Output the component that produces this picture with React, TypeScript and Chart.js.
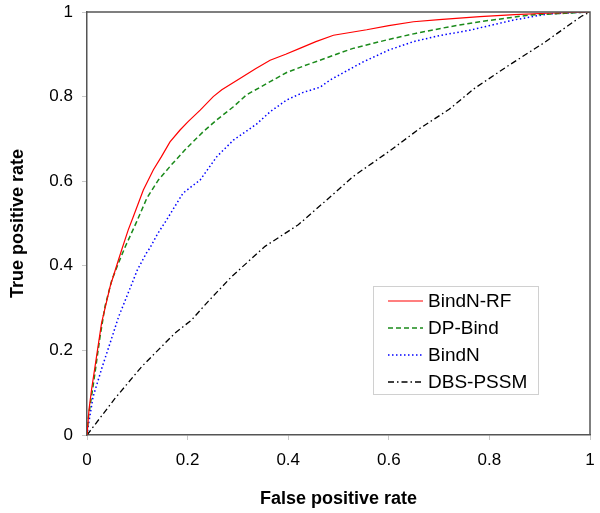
import React, { useEffect, useRef } from "react";
import { Chart, registerables } from "chart.js";

Chart.register(...registerables);

const seriesNames = ["BindN-RF", "DP-Bind", "BindN", "DBS-PSSM"];

const rfFpr = [0, 0.004, 0.009, 0.019, 0.029, 0.046, 0.062, 0.069, 0.082, 0.092, 0.112, 0.132, 0.148, 0.165, 0.185, 0.201, 0.225, 0.251, 0.268, 0.304, 0.335, 0.364, 0.395, 0.423, 0.455, 0.49, 0.52, 0.556, 0.6, 0.649, 0.7, 0.781, 0.85, 0.914, 1];
const rfTpr = [0, 0.06, 0.107, 0.186, 0.265, 0.351, 0.412, 0.438, 0.485, 0.516, 0.579, 0.627, 0.658, 0.693, 0.721, 0.741, 0.768, 0.8, 0.816, 0.843, 0.866, 0.886, 0.9, 0.914, 0.93, 0.945, 0.951, 0.958, 0.968, 0.977, 0.982, 0.989, 0.994, 0.997, 1];

const dpFpr = [0, 0.003, 0.013, 0.026, 0.036, 0.049, 0.062, 0.076, 0.099, 0.119, 0.142, 0.168, 0.198, 0.231, 0.258, 0.291, 0.317, 0.365, 0.397, 0.43, 0.463, 0.5, 0.529, 0.596, 0.655, 0.72, 0.781, 0.88, 0.95, 1];
const dpTpr = [0, 0.044, 0.123, 0.233, 0.305, 0.365, 0.405, 0.445, 0.505, 0.56, 0.603, 0.639, 0.678, 0.717, 0.745, 0.776, 0.804, 0.836, 0.857, 0.872, 0.886, 0.902, 0.914, 0.934, 0.95, 0.965, 0.977, 0.993, 0.997, 1];

const bnFpr = [0, 0.003, 0.012, 0.03, 0.048, 0.063, 0.085, 0.1, 0.118, 0.125, 0.14, 0.158, 0.191, 0.225, 0.258, 0.291, 0.337, 0.365, 0.397, 0.43, 0.463, 0.483, 0.515, 0.549, 0.6, 0.649, 0.7, 0.761, 0.848, 0.914, 0.96, 1];
const bnTpr = [0, 0.025, 0.09, 0.16, 0.225, 0.28, 0.345, 0.39, 0.43, 0.442, 0.475, 0.508, 0.572, 0.603, 0.658, 0.697, 0.735, 0.765, 0.792, 0.81, 0.822, 0.839, 0.86, 0.882, 0.91, 0.93, 0.944, 0.957, 0.981, 0.995, 0.998, 1];

const dbsFpr = [0, 0.056, 0.109, 0.175, 0.208, 0.241, 0.288, 0.354, 0.42, 0.473, 0.529, 0.6, 0.662, 0.72, 0.771, 0.84, 0.907, 0.983, 1];
const dbsTpr = [0, 0.087, 0.162, 0.241, 0.272, 0.316, 0.375, 0.446, 0.497, 0.552, 0.611, 0.67, 0.725, 0.77, 0.82, 0.875, 0.926, 0.99, 1];

const tickValues = [0, 0.2, 0.4, 0.6, 0.8, 1];

const FONT = "'Liberation Sans', Arial, sans-serif";

const toPoints = (xs: number[], ys: number[]) => xs.map((x, i) => ({ x, y: ys[i] }));

const frameAndLegend = {
  id: "frameAndLegend",
  afterDatasetsDraw(chart: any) {
    const { ctx, chartArea } = chart;
    ctx.save();
    ctx.strokeStyle = "#555";
    ctx.lineWidth = 1.5;
    ctx.setLineDash([]);
    ctx.beginPath();
    ctx.moveTo(chartArea.left, chartArea.top);
    ctx.lineTo(chartArea.right, chartArea.top);
    ctx.lineTo(chartArea.right, chartArea.bottom);
    ctx.stroke();

    // legend box
    const bx = 373, by = 286, bw = 165, bh = 108;
    ctx.fillStyle = "#fff";
    ctx.fillRect(bx, by, bw, bh);
    ctx.strokeStyle = "#d0d0d0";
    ctx.lineWidth = 1;
    ctx.strokeRect(bx + 0.5, by + 0.5, bw, bh);
    ctx.font = `19px ${FONT}`;
    ctx.textBaseline = "middle";
    ctx.textAlign = "left";
    chart.data.datasets.forEach((ds: any, i: number) => {
      const yy = by + 15 + i * 27;
      ctx.strokeStyle = ds.borderColor;
      ctx.lineWidth = ds.borderWidth;
      ctx.setLineDash(ds.borderDash || []);
      ctx.beginPath();
      ctx.moveTo(388, yy);
      ctx.lineTo(423, yy);
      ctx.stroke();
      ctx.setLineDash([]);
      ctx.fillStyle = "#000";
      ctx.fillText(ds.label, 428, yy + 1);
    });
    ctx.restore();
  },
};

export default function App() {
  const ref = useRef<HTMLCanvasElement | null>(null);
  useEffect(() => {
    if (!ref.current) return;
    const chart = new Chart(ref.current, {
      type: "line",
      data: {
        datasets: [
          { label: seriesNames[0], data: toPoints(rfFpr, rfTpr), borderColor: "#ff0000", borderWidth: 1.2, pointRadius: 0, fill: false, tension: 0 },
          { label: seriesNames[1], data: toPoints(dpFpr, dpTpr), borderColor: "#1a8a1a", borderWidth: 1.5, borderDash: [5, 3], pointRadius: 0, fill: false, tension: 0 },
          { label: seriesNames[2], data: toPoints(bnFpr, bnTpr), borderColor: "#0000ff", borderWidth: 1.5, borderDash: [1.5, 2.5], pointRadius: 0, fill: false, tension: 0 },
          { label: seriesNames[3], data: toPoints(dbsFpr, dbsTpr), borderColor: "#000000", borderWidth: 1.3, borderDash: [6, 3, 1.5, 3], pointRadius: 0, fill: false, tension: 0 },
        ],
      },
      options: {
        animation: false,
        responsive: false,
        maintainAspectRatio: false,
        layout: { padding: { left: 0, right: 10, top: 12, bottom: 0 } },
        plugins: { legend: { display: false }, tooltip: { enabled: false } },
        scales: {
          x: {
            type: "linear",
            min: 0,
            max: 1,
            afterBuildTicks: (s: any) => { s.ticks = tickValues.map((v) => ({ value: v })); },
            afterFit: (s: any) => { s.height = 78; s.paddingLeft = 0; s.paddingRight = 0; },
            ticks: { color: "#000", font: { family: FONT, size: 17 }, padding: 10, maxRotation: 0, callback: (v: any) => String(v) },
            grid: { drawOnChartArea: false, drawTicks: true, tickLength: 5, color: "#c8c8c8" },
            border: { color: "#555", width: 1.5 },
            title: { display: true, text: "False positive rate", color: "#000", font: { family: FONT, size: 18, weight: "bold" }, padding: { top: 0, bottom: 3 } },
          },
          y: {
            type: "linear",
            min: 0,
            max: 1,
            afterBuildTicks: (s: any) => { s.ticks = tickValues.map((v) => ({ value: v })); },
            afterFit: (s: any) => { s.width = 87; s.paddingTop = 0; s.paddingBottom = 0; },
            ticks: { color: "#000", font: { family: FONT, size: 17 }, padding: 9, callback: (v: any) => String(v) },
            grid: { drawOnChartArea: false, drawTicks: true, tickLength: 5, color: "#c8c8c8" },
            border: { color: "#555", width: 1.5 },
            title: { display: true, text: "True positive rate", color: "#000", font: { family: FONT, size: 18, weight: "bold" }, padding: { top: 7, bottom: 0 } },
          },
        },
      },
      plugins: [frameAndLegend],
    } as any);
    return () => chart.destroy();
  }, []);
  return (
    <div style={{ position: "fixed", left: 0, top: 0, width: 600, height: 513, background: "#fff" }}>
      <canvas ref={ref} width={600} height={513} style={{ display: "block", width: 600, height: 513 }} />
    </div>
  );
}
